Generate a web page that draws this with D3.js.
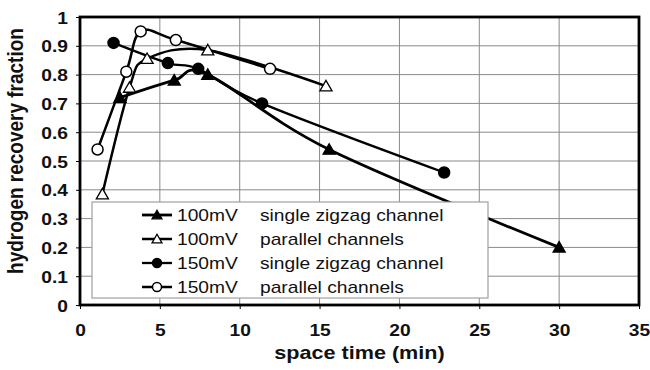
<!DOCTYPE html>
<html><head><meta charset="utf-8">
<script src="https://cdn.jsdelivr.net/npm/d3@7"></script>
<style>body{margin:0;background:#fff}svg{display:block;font-family:"Liberation Sans",Arial,sans-serif}</style>
</head><body>
<svg id="c" width="650" height="370"></svg>
<script>
const xTicks = [0,5,10,15,20,25,30,35];
const yTicks = [0,0.1,0.2,0.3,0.4,0.5,0.6,0.7,0.8,0.9,1];
const seriesNames = ["100mV","100mV","150mV","150mV"];
const seriesDesc = ["single zigzag channel","parallel channels","single zigzag channel","parallel channels"];
const seriesMarker = ["triangle","triangle","circle","circle"];
const seriesFilled = [true,false,true,false];
const s1x = [2.5, 5.9, 8.0, 15.6, 30.0];
const s1y = [0.72, 0.78, 0.80, 0.54, 0.20];
const s2x = [1.4, 3.1, 4.2, 8.0, 15.4];
const s2y = [0.385, 0.755, 0.855, 0.885, 0.76];
const s3x = [2.1, 5.5, 7.4, 11.4, 22.8];
const s3y = [0.91, 0.84, 0.82, 0.70, 0.46];
const s4x = [1.1, 2.9, 3.8, 6.0, 11.9];
const s4y = [0.54, 0.81, 0.95, 0.92, 0.82];
const xTitle = "space time (min)";
const yTitle = "hydrogen recovery fraction";

const xs = [s1x,s2x,s3x,s4x], ys = [s1y,s2y,s3y,s4y];
const series = xs.map((xa,i)=>xa.map((x,j)=>({x, y: ys[i][j]})));

const svg = d3.select("#c");
const L=80, R=639, T=17, B=305;
const x = d3.scaleLinear().domain([0,35]).range([L,R]);
const y = d3.scaleLinear().domain([0,1]).range([B,T]);
const SX = 1.2;

// grid
svg.append("g").selectAll("line").data(xTicks.slice(1,-1)).join("line")
  .attr("x1",d=>x(d)).attr("x2",d=>x(d)).attr("y1",T).attr("y2",B)
  .attr("stroke","#8a8a8a").attr("stroke-width",1);
svg.append("g").selectAll("line").data(yTicks.slice(1,-1)).join("line")
  .attr("y1",d=>y(d)).attr("y2",d=>y(d)).attr("x1",L).attr("x2",R)
  .attr("stroke","#8a8a8a").attr("stroke-width",1);

// axes
const gx = svg.append("g").attr("transform",`translate(0,${B})`)
  .call(d3.axisBottom(x).tickValues(xTicks).tickSize(4).tickPadding(0).tickFormat(d3.format("d")));
gx.select(".domain").remove();
gx.selectAll("line").attr("stroke","#000");
gx.selectAll("text").attr("y",null).attr("dy",null)
  .attr("transform",`translate(0,31) scale(${SX},1)`)
  .attr("font-size",16).attr("font-weight","bold").attr("fill","#111");

const gy = svg.append("g").attr("transform",`translate(${L},0)`)
  .call(d3.axisLeft(y).tickValues(yTicks).tickSize(4).tickFormat(d=>d3.format("")(+d.toFixed(1))));
gy.select(".domain").remove();
gy.selectAll("line").attr("stroke","#000");
gy.selectAll("text").attr("x",null).attr("dy",null)
  .attr("transform",`translate(-12,6) scale(${SX},1)`)
  .attr("font-size",16).attr("font-weight","bold").attr("fill","#111");

// lines
const line = d3.line().x(d=>x(d.x)).y(d=>y(d.y)).curve(d3.curveCardinal.tension(0));
const widths=[2.8,2.5,2.3,2.5];
series.forEach((s,i)=>{
  svg.append("path").datum(s).attr("d",line).attr("fill","none")
    .attr("stroke","#000").attr("stroke-width",widths[i]).attr("stroke-linejoin","round");
});

function marker(g, type, filled, cx, cy, size){
  if(type==="circle"){
    g.append("circle").attr("cx",cx).attr("cy",cy).attr("r",size)
      .attr("fill",filled?"#000":"#fff").attr("stroke","#000").attr("stroke-width",1.5);
  } else {
    const h=size*1.9, w=size*1.1;
    g.append("path").attr("d",`M${cx},${cy-h*0.55}L${cx+w},${cy+h*0.45}L${cx-w},${cy+h*0.45}Z`)
      .attr("fill",filled?"#000":"#fff").attr("stroke","#000").attr("stroke-width",1.3);
  }
}
series.forEach((s,i)=>{
  const g=svg.append("g");
  s.forEach(d=>marker(g, seriesMarker[i], seriesFilled[i], x(d.x), y(d.y), 5.5));
});

// legend
const lg = svg.append("g");
lg.append("rect").attr("x",92).attr("y",202).attr("width",396).attr("height",96)
  .attr("fill","#fff").attr("stroke","#a0a0a0").attr("stroke-width",1.2);
seriesNames.forEach((n,i)=>{
  const cy = 215 + i*24;
  lg.append("line").attr("x1",142).attr("x2",172).attr("y1",cy).attr("y2",cy)
    .attr("stroke","#000").attr("stroke-width",widths[i]);
  marker(lg, seriesMarker[i], seriesFilled[i], 157, cy, 4.5);
  lg.append("text").attr("transform",`translate(177,${cy+6}) scale(${SX},1)`)
    .attr("font-size",16).attr("fill","#111").text(n);
  lg.append("text").attr("transform",`translate(260,${cy+6}) scale(${SX},1)`)
    .attr("font-size",16).attr("fill","#111").text(seriesDesc[i]);
});

// border
svg.append("rect").attr("x",L).attr("y",T).attr("width",R-L).attr("height",B-T)
  .attr("fill","none").attr("stroke","#000").attr("stroke-width",2.8);

// titles
svg.append("text").attr("transform",`translate(${(L+R)/2},359) scale(${SX},1)`)
  .attr("text-anchor","middle").attr("font-size",18).attr("font-weight","bold").attr("fill","#111")
  .text(xTitle);
svg.append("text").attr("transform",`translate(23,151) rotate(-90) scale(1,${SX})`)
  .attr("text-anchor","middle").attr("font-size",19).attr("font-weight","bold").attr("fill","#111")
  .text(yTitle);
</script>
</body></html>
